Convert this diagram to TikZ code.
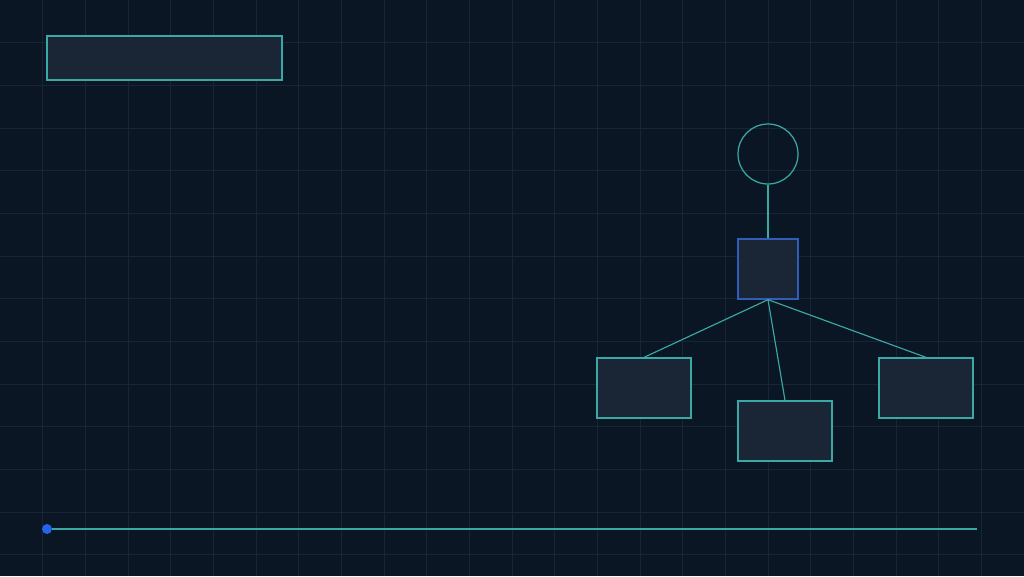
\documentclass[tikz,border=0pt]{standalone}
\usepackage{tikz}
\usetikzlibrary{shapes,arrows}
\usetikzlibrary{positioning}
\definecolor{bgdark}{HTML}{0B1624}
\definecolor{gridcol}{HTML}{182536}
\definecolor{boxfill}{HTML}{1A2535}
\definecolor{tealline}{HTML}{3AA9A6}
\definecolor{rootblue}{HTML}{2F5DB8}
\definecolor{dotblue}{HTML}{2563EB}
\tikzstyle{panel} = [draw=tealline, fill=boxfill, line width=0.75pt, inner sep=0pt,
    minimum width=4.7cm, minimum height=0.88cm]
\tikzstyle{leaf} = [draw=tealline, fill=boxfill, line width=0.75pt, inner sep=0pt,
    minimum width=1.88cm, minimum height=1.2cm]
\tikzstyle{root} = [draw=rootblue, fill=boxfill, line width=0.75pt, inner sep=0pt,
    minimum width=1.2cm, minimum height=1.2cm]
\tikzstyle{head} = [draw=tealline, circle, line width=0.7pt, inner sep=0pt,
    minimum size=1.2cm]
\tikzstyle{link} = [draw=tealline, line width=0.65pt]
\tikzstyle{gridline} = [draw=gridcol, line width=0.5pt]

\begin{document}
\begin{tikzpicture}[x=0.02cm, y=-0.02cm]
  \fill [bgdark] (0,0) rectangle (1024,576);
  \useasboundingbox (0,0) rectangle (1024,576);
  \foreach \i in {1,...,23}
    \draw [gridline] (\i*42.667,0) -- (\i*42.667,576);
  \foreach \j in {1,...,13}
    \draw [gridline] (0,\j*42.667) -- (1024,\j*42.667);

  \node [panel] (title) at (164.5,58) {};

  \node [head] (top) at (768,154) {};
  \node [root] (hub) at (768,269) {};
  \node [leaf] (left) at (644,388) {};
  \node [leaf] (mid) at (785,431) {};
  \node [leaf] (right) at (926,388) {};
  \draw [link] (top) -- (hub);
  \draw [link] (hub.south) -- (left.north);
  \draw [link] (hub.south) -- (mid.north);
  \draw [link] (hub.south) -- (right.north);

  \coordinate (lineend) at (977,529);
  \node [circle, fill=dotblue, inner sep=0pt, minimum size=0.2cm] (dot) at (47,529) {};
  \draw [link] (dot) -- (lineend);
\end{tikzpicture}
\end{document}
